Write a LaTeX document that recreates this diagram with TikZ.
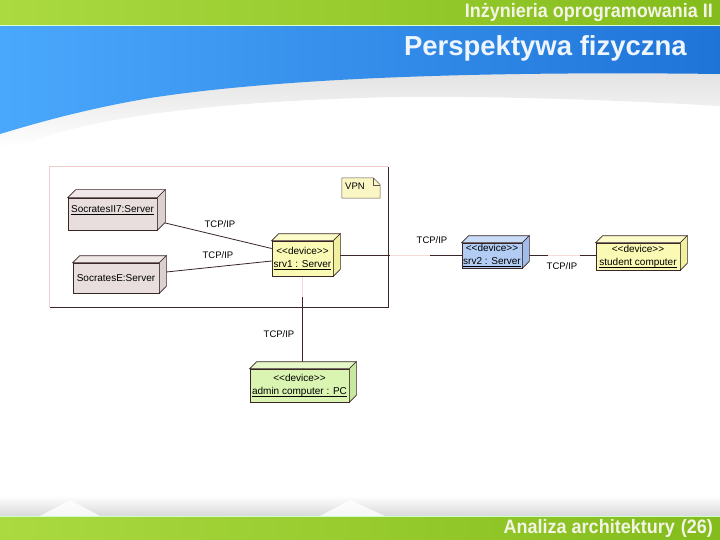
\documentclass[tikz,border=0pt]{standalone}
\usepackage{fontspec}
\setmainfont{Liberation Sans}
\pgfdeclarelayer{pagebg}
\pgfdeclarelayer{background}
\pgfsetlayers{pagebg,background,main}
\definecolor{gtopL}{HTML}{AADA40}
\definecolor{gtopR}{HTML}{84BC1C}
\definecolor{blueL}{HTML}{4AA8FC}
\definecolor{blueR}{HTML}{1F74D8}
\definecolor{edgec}{HTML}{3A2626}
\definecolor{pinkframe}{HTML}{F2CCCC}
\definecolor{faintline}{HTML}{F6DADA}
\definecolor{sockfill}{HTML}{E8DEDE}
\definecolor{socktop}{HTML}{F0E8E8}
\definecolor{sockside}{HTML}{DCD0D0}
\definecolor{yelfill}{HTML}{FAFAB4}
\definecolor{yeltop}{HTML}{FCFCCA}
\definecolor{yelside}{HTML}{F0F0A0}
\definecolor{bluefill}{HTML}{B2CCF4}
\definecolor{bluetop}{HTML}{C8DCF8}
\definecolor{blueside}{HTML}{A0BCE8}
\definecolor{grnfill}{HTML}{DAF4B2}
\definecolor{grntop}{HTML}{E6F8C8}
\definecolor{grnside}{HTML}{C8E8A0}
\definecolor{notefill}{HTML}{FAF7C4}
\definecolor{hdrtext}{HTML}{F4F4E6}
\definecolor{titletext}{HTML}{EEF5FD}
\newcommand\ulname[1]{\underline{\smash{#1}}}
\tikzset{
  dev/.style={draw=edgec, line width=0.6pt, inner sep=0pt, align=center,
    font=\fontsize{10}{12.5}\selectfont, text=black},
  conn/.style={draw=edgec, line width=0.8pt},
  faint/.style={draw=faintline, line width=1pt},
  lbl/.style={font=\fontsize{9.5}{11}\selectfont, text=black, inner sep=0pt},
  face/.style={draw=edgec, line width=0.6pt},
}
\newcommand\devfaces[4]{% name, depth, top colour, side colour
  \filldraw[face, fill=#3] (#1.north west) -- ++(#2,-#2) -- ([shift={(#2,-#2)}]#1.north east) -- (#1.north east) -- cycle;
  \filldraw[face, fill=#4] (#1.north east) -- ++(#2,-#2) -- ([shift={(#2,-#2)}]#1.south east) -- (#1.south east) -- cycle;
}
\begin{document}
\begin{tikzpicture}[x=1pt, y=-1pt]
\useasboundingbox (0,0) rectangle (720,540);
\begin{pgfonlayer}{pagebg}
\fill[white] (0,0) rectangle (720,540);
\shade[left color=gtopL, right color=gtopR] (0,0) rectangle (720,25);
\shade[top color=gray!35, bottom color=white] (0,26) -- (720,26) -- (720,106) .. controls (600,99) and (480,96) .. (400,97) .. controls (250,100) and (110,112) .. (30,142) -- (0,148) -- cycle;
\shade[left color=blueL, right color=blueR] (0,26) -- (720,26) -- (720,74) .. controls (480,71) and (280,78) .. (150,98) .. controls (80,110) and (30,125) .. (0,134) -- cycle;
\draw[white!85!green, line width=1pt] (0,25.5) -- (720,25.5);
\shade[top color=white, bottom color=gray!30] (0,496) rectangle (720,516);
\fill[white, opacity=0.8] (40,516) -- (70,500) -- (100,516) -- cycle;
\fill[white, opacity=0.8] (320,516) -- (350,500) -- (385,516) -- cycle;
\draw[white!80!green, line width=1pt] (0,516.5) -- (720,516.5);
\shade[left color=gtopL, right color=gtopR] (0,517) rectangle (720,540);
\end{pgfonlayer}
\node[anchor=east, font=\bfseries\fontsize{18}{20}\selectfont, text=hdrtext, inner sep=0pt] (hdr) at (713,12.5) {\scalebox{1}[1.08]{Inżynieria oprogramowania II}};
\node[anchor=east, font=\bfseries\fontsize{27.5}{30}\selectfont, text=titletext, inner sep=0pt] (title) at (687,48) {Perspektywa fizyczna};
\node[anchor=east, font=\bfseries\fontsize{18}{20}\selectfont, text=hdrtext, inner sep=0pt] (foot) at (713,528.5) {\scalebox{1}[1.08]{Analiza architektury\hspace{6pt}(26)}};
% VPN frame
\node[minimum width=338, minimum height=140, inner sep=0pt] (frame) at (219,237) {};
\draw[pinkframe, line width=0.8pt] (frame.south west) -- (frame.north west) -- (frame.north east);
\draw[edgec, line width=0.8pt] (frame.north east) -- (frame.south east) -- (frame.south west);
% VPN note
\node[minimum width=38, minimum height=20, inner sep=0pt] (vpn) at (361,188) {};
\filldraw[draw=edgec!80, fill=notefill, line width=0.5pt] (vpn.south west) -- (vpn.north west) -- ([xshift=-7]vpn.north east) -- ([yshift=-7]vpn.north east) -- (vpn.south east) -- cycle;
\draw[edgec!80, line width=0.5pt] ([xshift=-7]vpn.north east) -- ([shift={(-7,7)}]vpn.north east) -- ([yshift=-7]vpn.north east);
\node[lbl, anchor=west] (vpntext) at (345,186) {VPN};
% devices
\node[dev, fill=sockfill, minimum width=89, minimum height=32] (s7) at (112.5,214) {\ulname{SocratesII7:Server}};
\devfaces{s7}{8}{socktop}{sockside}
\node[dev, fill=sockfill, minimum width=86, minimum height=30] (sE) at (116,278) {SocratesE:Server};
\devfaces{sE}{7}{socktop}{sockside}
\node[dev, fill=yelfill, minimum width=61, minimum height=35] (srv1) at (302.5,258.5) {{<}{<}device{>}{>}\\\ulname{srv1 : Server}};
\devfaces{srv1}{7}{yeltop}{yelside}
\node[dev, fill=bluefill, minimum width=60, minimum height=25] (srv2) at (492,255.5) {{<}{<}device{>}{>}\\\ulname{srv2 : Server}};
\devfaces{srv2}{7}{bluetop}{blueside}
\node[dev, fill=yelfill, minimum width=84, minimum height=27] (student) at (638,256.5) {{<}{<}device{>}{>}\\\ulname{student computer}};
\devfaces{student}{7}{yeltop}{yelside}
\node[dev, fill=grnfill, minimum width=99, minimum height=33] (admin) at (299.5,385.5) {{<}{<}device{>}{>}\\\ulname{admin computer : PC}};
\devfaces{admin}{7}{grntop}{grnside}
% connectors
\begin{pgfonlayer}{background}
\draw[conn] ([shift={(8,9)}]s7.east) -- ([yshift=10]srv1.west);
\draw[conn] ([shift={(7,-6)}]sE.east) -- ([yshift=-2.5]srv1.west);
\draw[conn] (srv1.east |- srv2.west) -- (srv2.west);
\draw[conn] (srv2.east) -- (srv2.east -| student.west);
\draw[conn] (srv1.south) -- (srv1.south |- admin.north);
\coordinate (fa1) at (390,255.5);
\coordinate (fa2) at (430,255.5);
\draw[faint] (fa1) -- (fa2);
\coordinate (fb1) at (548,255.5);
\coordinate (fb2) at (580,255.5);
\draw[faint] (fb1) -- (fb2);
\coordinate (fc1) at (302.5,277);
\coordinate (fc2) at (302.5,297);
\draw[faint] (fc1) -- (fc2);
\end{pgfonlayer}
% labels
\node[lbl] (l1) at (220,224.5) {TCP/IP};
\node[lbl] (l2) at (218,255) {TCP/IP};
\node[lbl] (l3) at (432,240) {TCP/IP};
\node[lbl] (l4) at (562,266) {TCP/IP};
\node[lbl] (l5) at (279,334.5) {TCP/IP};
\end{tikzpicture}
\end{document}
